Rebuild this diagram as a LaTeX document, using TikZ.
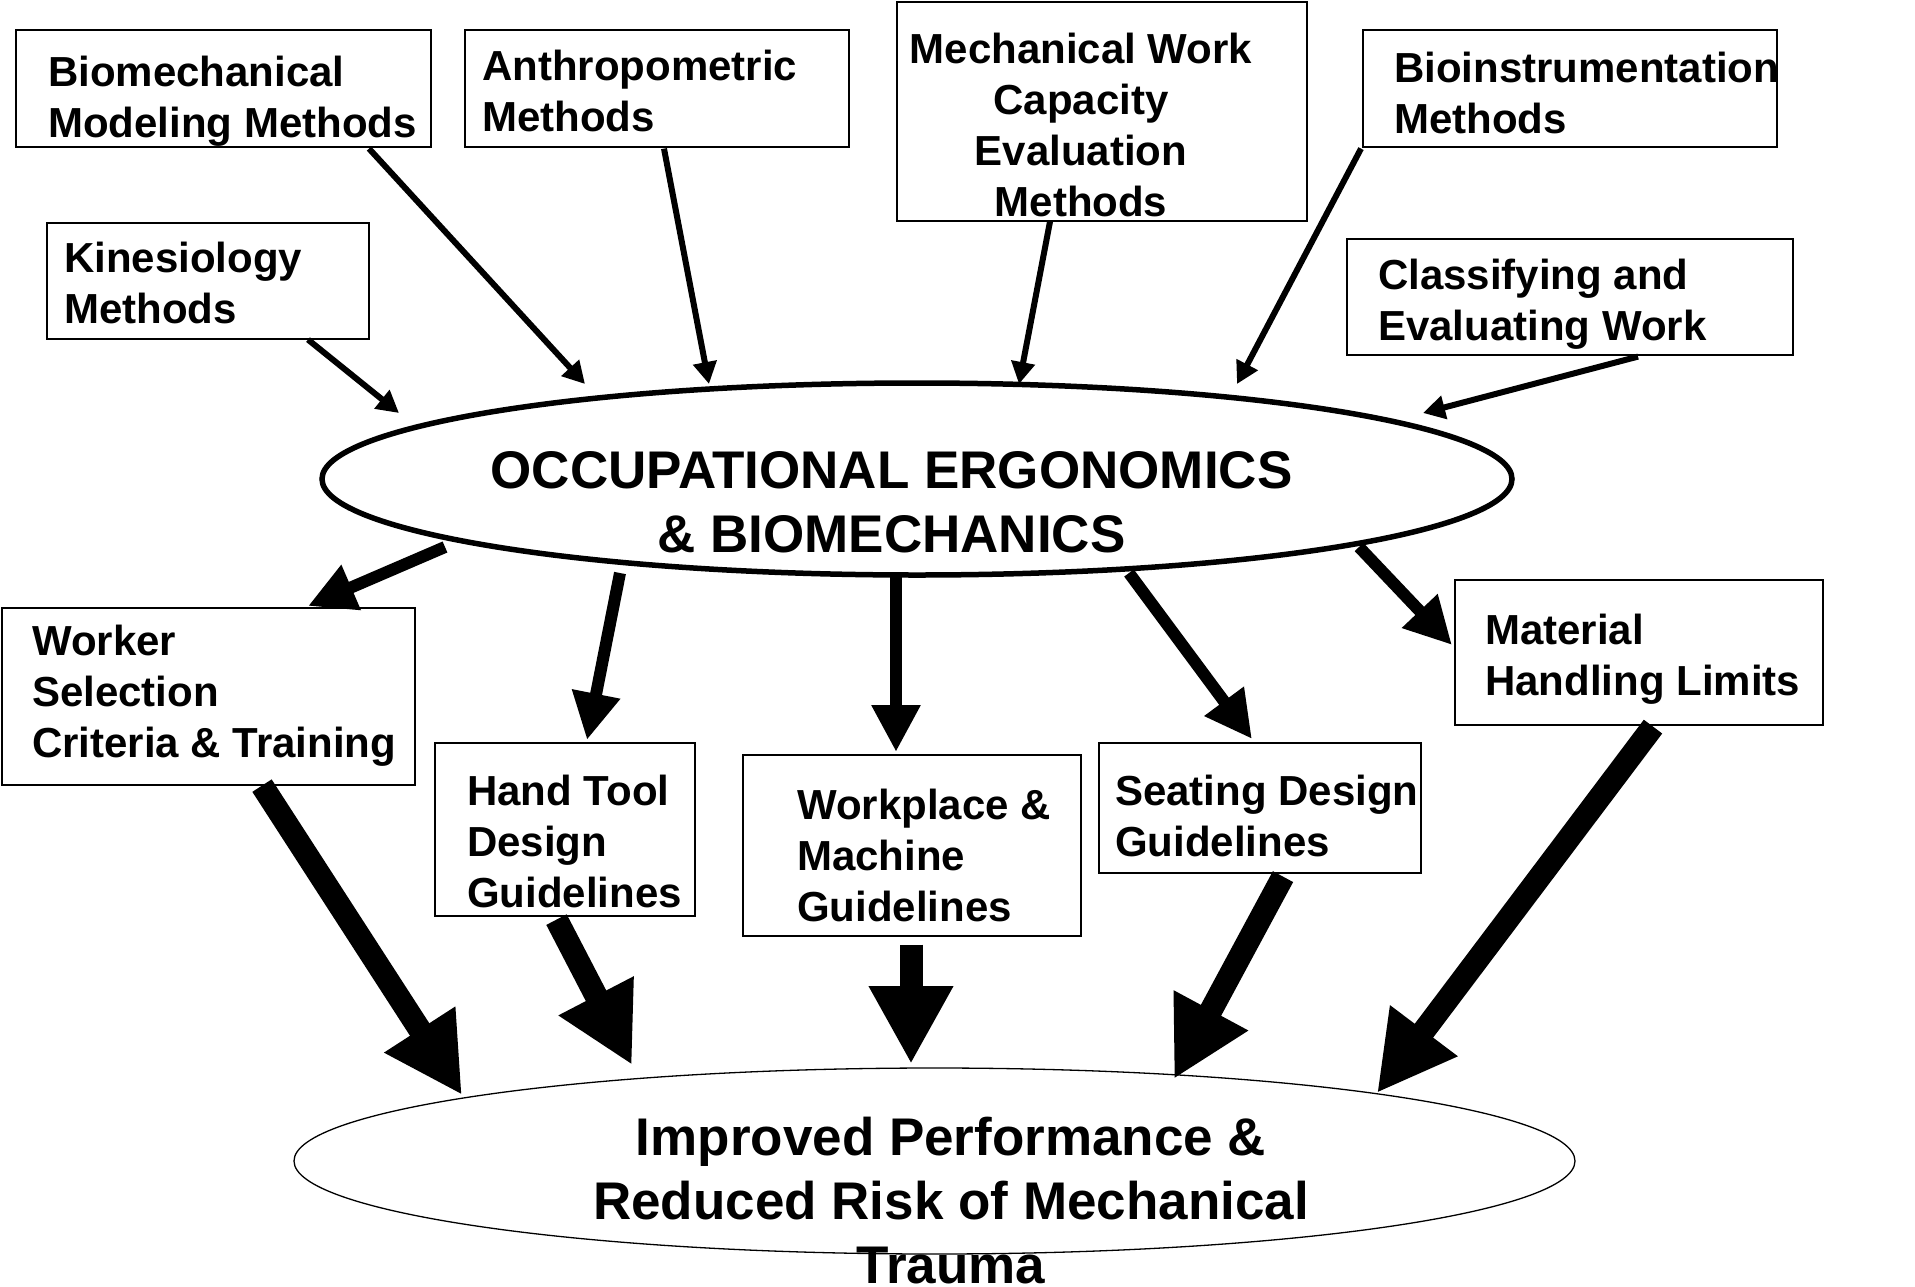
\documentclass[tikz,border=0pt]{standalone}
\usepackage{fontspec}
\setmainfont{Liberation Sans}
\usetikzlibrary{arrows.meta,shapes.geometric,calc}
\begin{document}
\begin{tikzpicture}[x=1pt,y=-1pt,
  box/.style={draw,line width=1.6pt,rectangle,inner sep=0pt,anchor=north west},
  lbl/.style={font=\bfseries\fontsize{42}{51}\selectfont,inner sep=0pt,align=left,anchor=base west},
  lblc/.style={font=\bfseries\fontsize{42}{51}\selectfont,inner sep=0pt,align=center,anchor=base},
  big/.style={font=\bfseries\fontsize{53}{64.5}\selectfont,inner sep=0pt,align=center,anchor=base},
  thinar/.style={line width=6pt,-{Triangle[length=22pt,width=23pt]}},
  medar/.style={line width=12pt,-{Triangle[length=47pt,width=46pt]}},
  thickar/.style={line width=23pt,-{Triangle[length=78pt,width=79pt]}}]
\useasboundingbox (0,0) rectangle (1915,1286);
\fill[white] (0,0) rectangle (1915,1286);

% ellipses
\node[draw,ellipse,line width=5.5pt,minimum width=1190pt,minimum height=192pt,inner sep=0pt] (occ) at (917,479) {};
\node[draw,ellipse,line width=1.3pt,minimum width=1281pt,minimum height=186pt,inner sep=0pt] (imp) at (934.5,1161) {};

% boxes
\node[box,minimum width=415pt,minimum height=117pt] (b1) at (15,29) {};
\node[box,minimum width=384pt,minimum height=117pt] (b2) at (464,29) {};
\node[box,minimum width=410pt,minimum height=219pt] (b3) at (896,1) {};
\node[box,minimum width=414pt,minimum height=117pt] (b4) at (1362,29) {};
\node[box,minimum width=322pt,minimum height=116pt] (b5) at (46,222) {};
\node[box,minimum width=446pt,minimum height=116pt] (b6) at (1346,238) {};
\node[box,minimum width=413pt,minimum height=177pt] (b7) at (1,607) {};
\node[box,minimum width=260pt,minimum height=173pt] (b8) at (434,742) {};
\node[box,minimum width=338pt,minimum height=181pt] (b9) at (742,754) {};
\node[box,minimum width=322pt,minimum height=130pt] (b10) at (1098,742) {};
\node[box,minimum width=368pt,minimum height=145pt] (b11) at (1454,579) {};

% texts (anchored at the baseline of the last line)
\node[lbl] (t1) at (48,137) {Biomechanical\\Modeling Methods};
\node[lbl] (t2) at (482,131) {Anthropometric\\Methods};
\node[lblc] (t3) at (1081,216) {Mechanical Work\\Capacity\\Evaluation\\Methods};
\node[lbl] (t4) at (1394,133) {Bioinstrumentation\\Methods};
\node[lbl] (t5) at (64,323) {Kinesiology\\Methods};
\node[lbl] (t6) at (1378,340) {Classifying and\\Evaluating Work};
\node[lbl] (t7) at (32,757) {Worker\\Selection\\Criteria \& Training};
\node[lbl] (t8) at (467,907) {Hand Tool\\Design\\Guidelines};
\node[lbl] (t9) at (797,921) {Workplace \&\\Machine\\Guidelines};
\node[lbl] (t10) at (1115,856) {Seating Design\\Guidelines};
\node[lbl] (t11) at (1485,695) {Material\\Handling Limits};
\node[big] (occt) at (891.5,552.5) {OCCUPATIONAL ERGONOMICS\\\& BIOMECHANICS};
\node[big,font=\bfseries\fontsize{53}{64}\selectfont] (impt) at (951,1283) {Improved Performance \&\\Reduced Risk of Mechanical\\Trauma};

% inputs
\draw[thinar] ($(b5.south west)+(262,0)$) -- ($(occ.center)+(-518,-66)$);
\draw[thinar] ($(b1.south west)+(354,1)$) -- ($(occ.center)+(-332,-95)$);
\draw[thinar] ($(b2.south west)+(200,1)$) -- ($(occ.center)+(-208,-95)$);
\draw[thinar] ($(b3.south west)+(154,0)$) -- ($(occ.center)+(102,-95)$);
\draw[thinar] ($(b4.south west)+(-1,1)$) -- ($(occ.center)+(320,-95)$);
\draw[thinar] ($(b6.south west)+(292,1)$) -- ($(occ.center)+(506,-66)$);

% outputs
\draw[medar] ($(occ.center)+(-472,68)$) -- ($(b7.north west)+(307,-1)$);
\draw[medar] ($(occ.center)+(-297,94)$) -- ($(b8.north west)+(153,-2)$);
\draw[medar] ($(occ.center)+(-21,94)$) -- ($(b9.north west)+(154,-2)$);
\draw[medar] ($(occ.center)+(212,94)$) -- ($(b10.north west)+(154,-3)$);
\draw[medar] ($(occ.center)+(442,68)$) -- ($(b11.north west)+(-2,66)$);

% results
\draw[thickar] ($(b7.south west)+(261,0)$) -- ($(imp.center)+(-472.5,-66)$);
\draw[thickar] ($(b8.south west)+(122.5,3)$) -- ($(imp.center)+(-302.5,-96)$);
\draw[thickar] ($(b9.south west)+(169,8)$) -- ($(imp.center)+(-23.5,-97)$);
\draw[thickar] ($(b10.south west)+(185,3)$) -- ($(imp.center)+(239.5,-82)$);
\draw[thickar] ($(b11.south west)+(199,1)$) -- ($(imp.center)+(442.5,-68)$);
\end{tikzpicture}
\end{document}
